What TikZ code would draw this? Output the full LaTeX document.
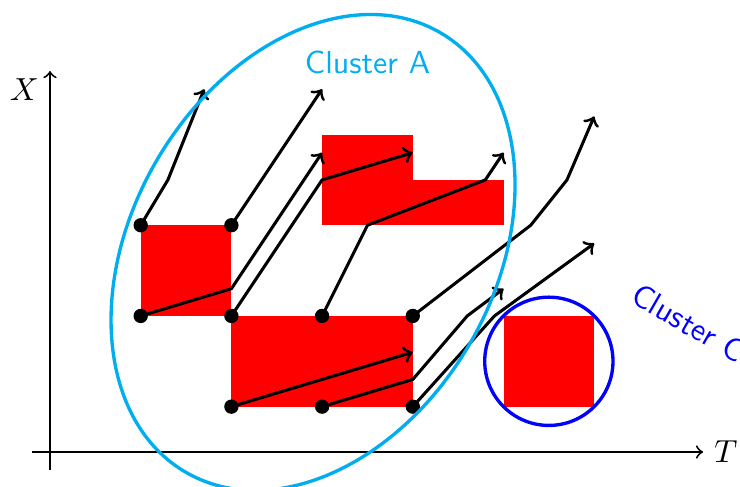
\documentclass[tikz,border=0pt]{standalone}
\definecolor{clA}{RGB}{0,174,239}
\begin{document}
\begin{tikzpicture}[
  dot/.style={circle,fill=black,inner sep=0pt,minimum size=4.5pt},
  traj/.style={line width=0.95pt,->},
  axisline/.style={semithick,->},
  blob/.style={fill=red},
  lbl/.style={font=\sffamily},
  cluster/.style={line width=1.05pt}
]
\useasboundingbox (-0.5513,-0.3859) rectangle (7.6075,4.9835);
% red regions
\fill[blob] (1,1.5) rectangle (2,2.5);
\fill[blob] (2,0.5) rectangle (4,1.5);
\fill[blob] (3,2.5) rectangle (4,3.5);
\fill[blob] (4,2.5) rectangle (5,3);
\fill[blob] (5,0.5) rectangle (6,1.5);
% axes
\coordinate (xs) at (-0.2,0);
\coordinate (xe) at (7.2,0);
\coordinate (ys) at (0,-0.2);
\coordinate (ye) at (0,4.2);
\draw[axisline] (xs) -- (xe);
\draw[axisline] (ys) -- (ye);
\node[right] (tl) at (xe) {$T$};
\node[left] (xl) at (0,4) {$X$};
% dots
\node[dot] (A) at (1,2.5) {};
\node[dot] (B) at (2,2.5) {};
\node[dot] (C) at (1,1.5) {};
\node[dot] (D) at (2,1.5) {};
\node[dot] (E) at (3,1.5) {};
\node[dot] (F) at (4,1.5) {};
\node[dot] (G) at (2,0.5) {};
\node[dot] (H) at (3,0.5) {};
\node[dot] (I) at (4,0.5) {};
% trajectory ends
\coordinate (Ae) at (1.7,4);
\coordinate (Be) at (3,4);
\coordinate (Ce) at (3,3.3);
\coordinate (De) at (4,3.3);
\coordinate (Ee) at (5,3.3);
\coordinate (Fe) at (6,3.7);
\coordinate (Ge) at (4,1.1);
\coordinate (He) at (5,1.8);
\coordinate (Ie) at (6,2.3);
% trajectories
\draw[traj] (A.center) -- (1.3,3) -- (Ae);
\draw[traj] (B.center) -- (Be);
\draw[traj] (C.center) -- (2,1.8) -- (Ce);
\draw[traj] (D.center) -- (3,3) -- (De);
\draw[traj] (E.center) -- (3.5,2.5) -- (4.8,3) -- (Ee);
\draw[traj] (F.center) -- (5.3,2.5) -- (5.7,3) -- (Fe);
\draw[traj] (G.center) -- (Ge);
\draw[traj] (H.center) -- (4,0.8) -- (4.6,1.5) -- (He);
\draw[traj] (I.center) -- (4.9,1.5) -- (Ie);
% clusters
\draw[cluster,clA,rotate around={60:(2.9,2.2)}] (2.9,2.2) ellipse (2.8 and 2);
\draw[cluster,blue] (5.5,1) circle (0.7071);
\node[lbl,text=clA] (ca) at (3.5,4.3) {Cluster A};
\node[lbl,text=blue,rotate=-30] (cc) at (7.04,1.42) {Cluster C};
\end{tikzpicture}
\end{document}
